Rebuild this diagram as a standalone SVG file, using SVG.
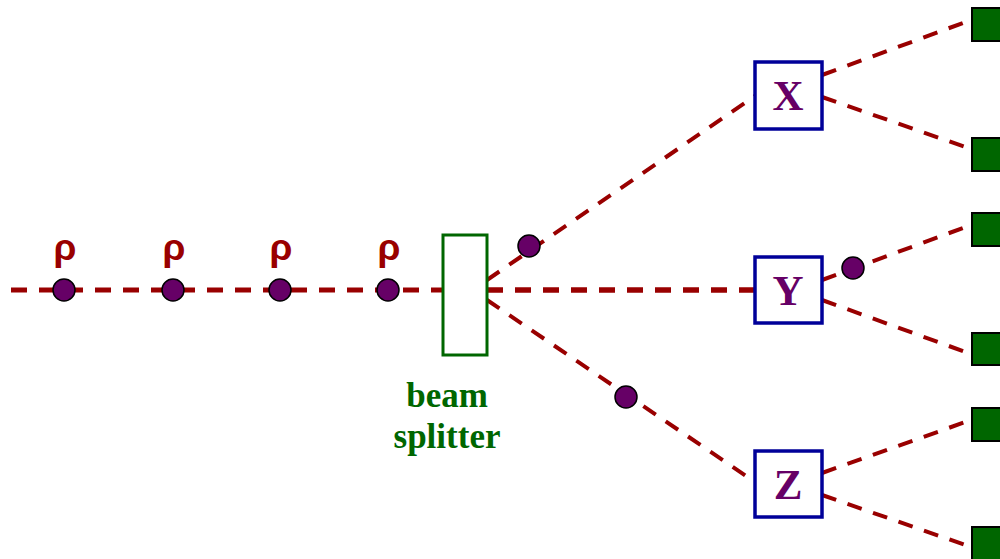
<svg xmlns="http://www.w3.org/2000/svg" width="1000" height="559" viewBox="0 0 1000 559">
<style>
.beam{stroke:#990000;stroke-width:5;stroke-dasharray:16 12;fill:none}
.thin{stroke:#990000;stroke-width:4;stroke-dasharray:15 12;fill:none}
.photon{fill:#660066;stroke:#000;stroke-width:1.5}
.rho{font-family:"Liberation Sans",Arial,sans-serif;font-weight:bold;font-size:37px;fill:#990000;text-anchor:middle}
.box{fill:#fff;stroke:#000099;stroke-width:3.5}
.blabel{font-family:"Liberation Serif","Times New Roman",serif;font-weight:bold;font-size:43px;fill:#660066;text-anchor:middle}
.det{fill:#006600;stroke:#000;stroke-width:2}
.bs{fill:#fff;stroke:#006600;stroke-width:3}
.bstext{font-family:"Liberation Serif","Times New Roman",serif;font-weight:bold;font-size:35px;fill:#006600;text-anchor:middle}
</style>
<g id="connectors">
<line class="beam" x1="11" y1="290" x2="443" y2="290"/>
<line class="beam" x1="487" y1="290" x2="755" y2="290" style="stroke-width:5.5"/>
<line class="thin" x1="487" y1="280" x2="755" y2="96"/>
<line class="thin" x1="487" y1="300" x2="755" y2="482"/>
<line class="thin" x1="822" y1="75" x2="971" y2="20"/>
<line class="thin" x1="822" y1="97" x2="971" y2="149"/>
<line class="thin" x1="822" y1="280" x2="971" y2="225"/>
<line class="thin" x1="822" y1="300" x2="971" y2="354"/>
<line class="thin" x1="822" y1="473" x2="971" y2="420"/>
<line class="thin" x1="822" y1="495" x2="971" y2="547"/>
</g>
<g id="photons">
<g id="photon1"><circle class="photon" cx="64" cy="290" r="11"/><text class="rho" x="65" y="260">ρ</text></g>
<g id="photon2"><circle class="photon" cx="173" cy="290" r="11"/><text class="rho" x="174" y="260">ρ</text></g>
<g id="photon3"><circle class="photon" cx="280" cy="290" r="11"/><text class="rho" x="281" y="260">ρ</text></g>
<g id="photon4"><circle class="photon" cx="388" cy="290" r="11"/><text class="rho" x="389" y="260">ρ</text></g>
<circle id="photon5" class="photon" cx="529" cy="246" r="11"/>
<circle id="photon6" class="photon" cx="626" cy="397" r="11"/>
<circle id="photon7" class="photon" cx="853" cy="268" r="11"/>
</g>
<g id="beamsplitter">
<rect class="bs" x="443" y="235" width="44" height="120"/>
<text class="bstext" x="447" y="407">beam</text>
<text class="bstext" x="447" y="448">splitter</text>
</g>
<g id="X"><rect class="box" x="755" y="62" width="67" height="67"/><text class="blabel" x="788" y="110">X</text></g>
<g id="Y"><rect class="box" x="755" y="257" width="67" height="66"/><text class="blabel" x="788" y="305">Y</text></g>
<g id="Z"><rect class="box" x="755" y="451" width="67" height="66"/><text class="blabel" x="788" y="499">Z</text></g>
<g id="det1"><rect class="det" x="972" y="8" width="34" height="33"/></g>
<g id="det2"><rect class="det" x="972" y="138" width="34" height="33"/></g>
<g id="det3"><rect class="det" x="972" y="213" width="34" height="33"/></g>
<g id="det4"><rect class="det" x="972" y="333" width="34" height="32"/></g>
<g id="det5"><rect class="det" x="972" y="408" width="34" height="33"/></g>
<g id="det6"><rect class="det" x="972" y="527" width="34" height="40"/></g>
</svg>
